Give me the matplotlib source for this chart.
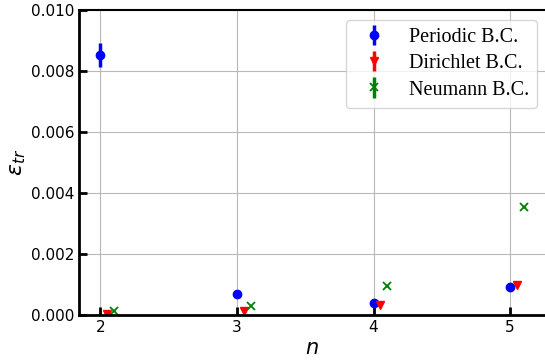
import matplotlib
matplotlib.use('Agg')
import matplotlib.pyplot as plt
import numpy as np

n_values = np.array([2, 3, 4, 5])

periodic_err = [0.00853, 0.00068, 0.00038, 0.00093]
periodic_std = [0.00039, 0.00002, 0.00002, 0.00002]

dirichlet_err = [0.00003, 0.00012, 0.00032, 0.00097]
dirichlet_std = [0.00001, 0.00001, 0.00001, 0.00002]

neumann_err = [0.00014, 0.00030, 0.00095, 0.00353]
neumann_std = [0.00001, 0.00001, 0.00002, 0.00003]

fig = plt.figure(figsize=(5.45, 3.64), dpi=100)
ax = fig.add_axes([0.145, 0.1346, 0.855, 0.8379])

ax.errorbar(n_values, periodic_err, yerr=periodic_std, fmt='o', color='blue',
            markersize=6, elinewidth=2.5, label='Periodic B.C.')
ax.errorbar(n_values + 0.05, dirichlet_err, yerr=dirichlet_std, fmt='v', color='red',
            markersize=6, elinewidth=2.5, label='Dirichlet B.C.')
ax.errorbar(n_values + 0.1, neumann_err, yerr=neumann_std, fmt='x', color='green',
            markersize=6, markeredgewidth=1.3, elinewidth=2.5, label='Neumann B.C.')

ax.set_xlim(1.845, 5.255)
ax.set_ylim(0, 0.010)
ax.set_xticks([2, 3, 4, 5])
ax.set_yticks([0, 0.002, 0.004, 0.006, 0.008, 0.010])
ax.set_yticklabels(['0.000', '0.002', '0.004', '0.006', '0.008', '0.010'])
ax.grid(True, color='#b8b8b8', linewidth=0.8)
ax.set_axisbelow(True)

ax.tick_params(direction='in', length=6, width=2, labelsize=11)
for side in ['left', 'bottom']:
    ax.spines[side].set_linewidth(2)
ax.spines['top'].set_linewidth(1.5)
ax.spines['right'].set_visible(False)

ax.set_xlabel('$n$', fontsize=15, labelpad=2)
ax.set_ylabel(r'$\epsilon_{tr}$', fontsize=16, labelpad=2)

ax.legend(loc='upper right', prop={'family': 'Liberation Serif', 'size': 14.5},
          borderaxespad=0.5, handletextpad=0.75, labelspacing=0.35,
          bbox_to_anchor=(1.005, 1.0))

plt.savefig('out.png', dpi=100)
